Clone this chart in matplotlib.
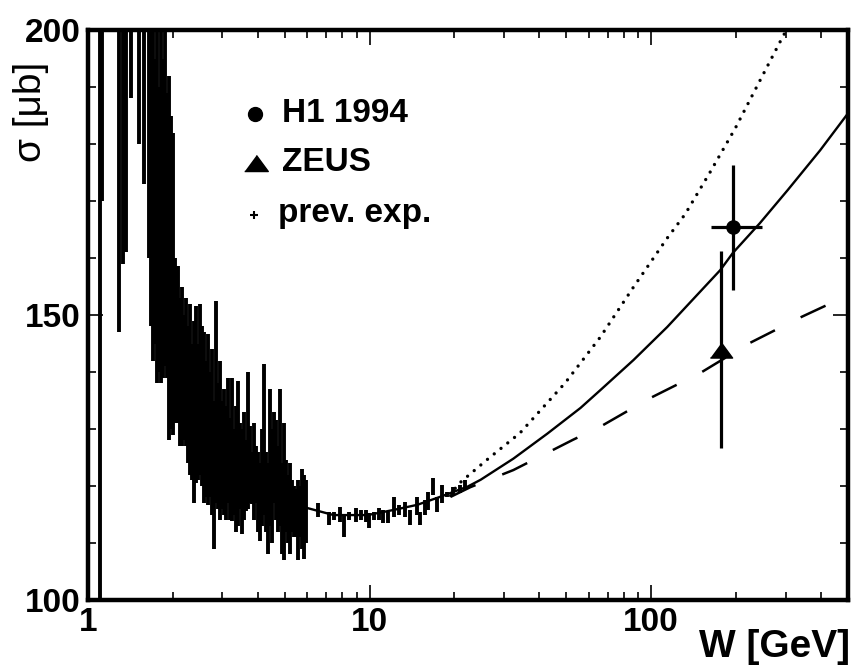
import matplotlib
matplotlib.use('Agg')
from matplotlib import pyplot as plt
from matplotlib import ticker
import numpy as np

# previous experiments (W [GeV], sigma [mub], error)
w_prev = [1.10, 1.12, 1.29, 1.33, 1.36, 1.42, 1.52, 1.58,
          1.646, 1.673, 1.70, 1.728, 1.757, 1.786, 1.815, 1.845, 1.875, 1.906,
          1.938, 1.97, 2.0, 2.035, 2.068, 2.085, 2.12, 2.155, 2.19, 2.226,
          2.263, 2.30, 2.338, 2.376, 2.416, 2.456, 2.496, 2.537, 2.579, 2.621,
          2.664, 2.708, 2.753, 2.798, 2.844, 2.89, 2.938, 2.987, 3.036, 3.086,
          3.136, 3.188, 3.24, 3.294, 3.348, 3.403, 3.46, 3.516, 3.574, 3.633,
          3.693, 3.753, 3.815, 3.878, 3.942, 4.007, 4.073, 4.14, 4.208, 4.277,
          4.347, 4.419, 4.492, 4.566, 4.641, 4.717, 4.795, 4.874, 4.954, 5.036,
          5.119, 5.203, 5.289, 5.376, 5.465, 5.555, 5.646, 5.739, 5.834, 5.93,
          6.54, 7.15, 7.45, 7.83, 8.08, 8.42, 8.92, 9.30, 9.70, 9.94, 10.35,
          10.77, 11.12, 11.58, 12.17, 12.67, 13.41, 13.94, 14.77, 15.13, 15.77,
          16.16, 16.85, 17.42, 18.14, 18.9, 19.8, 21.0, 21.9]
sig_prev = [150, 186, 174, 180, 181, 195, 191, 187,
            185, 178, 172, 170, 175, 165, 172, 167, 172, 164,
            160, 157.5, 155.5, 145.5, 144.5, 146.8, 140, 141, 139, 140,
            136, 137, 133, 133, 136, 133, 137, 134, 132, 130,
            131.7, 129, 129.5, 122, 134.7, 127, 128, 125.5, 126, 124,
            128, 123, 126.4, 122.5, 123, 125.7, 123.5, 120.8, 123.5, 121.8,
            128, 123.8, 121.4, 122.5, 122, 119, 117.2, 121.5, 128.2, 119,
            116, 125, 120, 125, 122.8, 119.5, 125, 116, 119, 118.3,
            116, 116, 116.5, 115.5, 115.2, 114, 115.5, 116, 114.6, 115.5,
            115.8, 114.35, 114.75, 115.05, 113.0, 114.75, 114.9, 114.9, 114.75, 113.9, 114.75,
            115.05, 114.65, 114.5, 116.35, 115.8, 115.9, 114.5, 116.5, 114.35, 116.2,
            117.4, 119.9, 116.8, 118.6, 118.55, 119.15, 119.45, 120.2]
err_prev = [52, 16, 27, 21, 20, 7, 11, 14,
            25, 30, 30, 25, 37, 25, 34, 28, 31, 25,
            32, 27.5, 26.5, 14.5, 13.5, 11.8, 13, 14, 11, 13,
            12, 15, 12, 16, 15.5, 12, 15, 14, 15, 12,
            15, 11, 14.5, 13, 17.7, 11, 14, 9.5, 11, 10,
            11, 9, 12.6, 7.5, 11, 12.7, 7.5, 9.2, 9.5, 6.2,
            12, 6.8, 4.6, 8.5, 5, 7, 6.8, 8.5, 13.2, 7,
            8, 12, 10, 8, 8.8, 7.5, 12, 8, 12, 6.3,
            6, 8, 4.5, 4.5, 4.2, 7, 4.5, 7, 7.4, 5.5,
            1.2, 1.15, 0.75, 1.35, 1.9, 0.75, 1.2, 0.9, 1.05, 1.3, 0.75,
            1.05, 1.15, 1.0, 1.75, 0.9, 1.3, 1.3, 1.6, 1.15, 1.3,
            1.6, 1.5, 1.3, 1.6, 0.45, 0.75, 0.75, 0.9]

# H1 1994 and ZEUS
w_h1 = [195.0]
sig_h1 = [165.4]
err_h1 = [11.0]
werr_h1 = [[32.0], [52.0]]
w_zeus = [177.0]
sig_zeus = [143.9]
err_zeus = [17.3]

# model curves
w_solid = [5.84, 7.45, 9.84, 12.17, 14.77, 17.8, 22.3, 24.8, 32.4, 42.8, 56.1,
           65.9, 86.5, 114, 176, 195, 243, 305, 398, 500]
sig_solid = [116.3, 114.9, 114.9, 115.8, 116.7, 118.1, 119.9, 121.1, 124.8, 129.2, 133.7,
             136.8, 142.1, 147.9, 157.9, 160.9, 166.1, 171.9, 178.9, 185.4]
w_dot = [19.4, 20.5, 26.1, 34.2, 49.5, 65.9, 86.5, 114, 132, 162, 199, 239, 288, 302]
sig_dot = [118.3, 120.2, 124.6, 129.3, 138.1, 146.1, 154.9, 163.5, 167.7, 175.1, 182.8,
           190.4, 198.1, 200.0]
w_dash = [19.4, 22.8, 32.4, 52.7, 65.9, 98.9, 149, 224, 336, 423, 500]
sig_dash = [118.1, 119.8, 122.8, 128.1, 130.4, 135.4, 139.8, 145.1, 149.5, 151.8, 152.6]

plt.rcParams['font.family'] = ['Liberation Sans', 'DejaVu Sans']

fig = plt.figure(figsize=(8.56, 6.68), dpi=100)
ax = fig.add_axes([0.1028, 0.1018, 0.8879, 0.8532])

ax.errorbar(w_prev, sig_prev, yerr=err_prev, fmt='none', ecolor='k',
            elinewidth=2.8, capsize=0)

ax.plot(w_solid, sig_solid, color='k', lw=1.7)
ax.plot(w_dot, sig_dot, color='k', lw=2.4, linestyle=(0, (0.01, 2.6)),
        dash_capstyle='round')
ax.plot(w_dash, sig_dash, color='k', lw=1.8, dashes=(11, 11.5))

ax.errorbar(w_h1, sig_h1, yerr=err_h1, xerr=werr_h1, fmt='o', color='k',
            ms=9.5, elinewidth=2.3, capsize=0)
tri = [(-1, -0.68), (1, -0.68), (0, 0.68)]
ax.errorbar(w_zeus, sig_zeus, yerr=err_zeus, fmt='none', ecolor='k',
            elinewidth=2.3, capsize=0)
ax.plot(w_zeus, sig_zeus, linestyle='none', marker=tri, color='k', ms=16)

ax.set_xscale('log')
ax.set_xlim(1, 500)
ax.set_ylim(100, 200)

ax.xaxis.set_major_locator(ticker.FixedLocator([1, 10, 100]))
ax.xaxis.set_major_formatter(ticker.FixedFormatter(['1', '10', '100']))
ax.xaxis.set_minor_locator(ticker.LogLocator(base=10, subs=np.arange(2, 10)))
ax.xaxis.set_minor_formatter(ticker.NullFormatter())
ax.yaxis.set_major_locator(ticker.MultipleLocator(50))
ax.yaxis.set_minor_locator(ticker.MultipleLocator(10))

ax.tick_params(which='both', direction='in', top=True, right=True, width=1.2)
ax.tick_params(which='major', length=11, labelsize=24, pad=5)
ax.tick_params(which='minor', length=6)
for lab in ax.get_xticklabels() + ax.get_yticklabels():
    lab.set_fontweight('bold')
for sp in ax.spines.values():
    sp.set_linewidth(3.2)

# axis titles
fig.text(0.993, 0.032, 'W [GeV]', ha='right', va='center', fontsize=28,
         fontweight='bold')
fig.text(0.036, 0.832, 'σ [μb]', ha='center', va='center', rotation=90,
         fontsize=28)

# legend
ax.plot([0.22], [0.853], 'o', color='k', ms=10, transform=ax.transAxes)
ax.plot([0.221], [0.767], linestyle='none', marker=tri, color='k', ms=17,
        transform=ax.transAxes)
ax.plot([0.218], [0.675], '+', color='k', ms=6, mew=1.5, transform=ax.transAxes)
ax.text(0.255, 0.853, 'H1 1994', transform=ax.transAxes, fontsize=24,
        fontweight='bold', va='center')
ax.text(0.255, 0.767, 'ZEUS', transform=ax.transAxes, fontsize=24,
        fontweight='bold', va='center')
ax.text(0.250, 0.678, 'prev. exp.', transform=ax.transAxes, fontsize=24,
        fontweight='bold', va='center')

plt.savefig('out.png', dpi=100)
